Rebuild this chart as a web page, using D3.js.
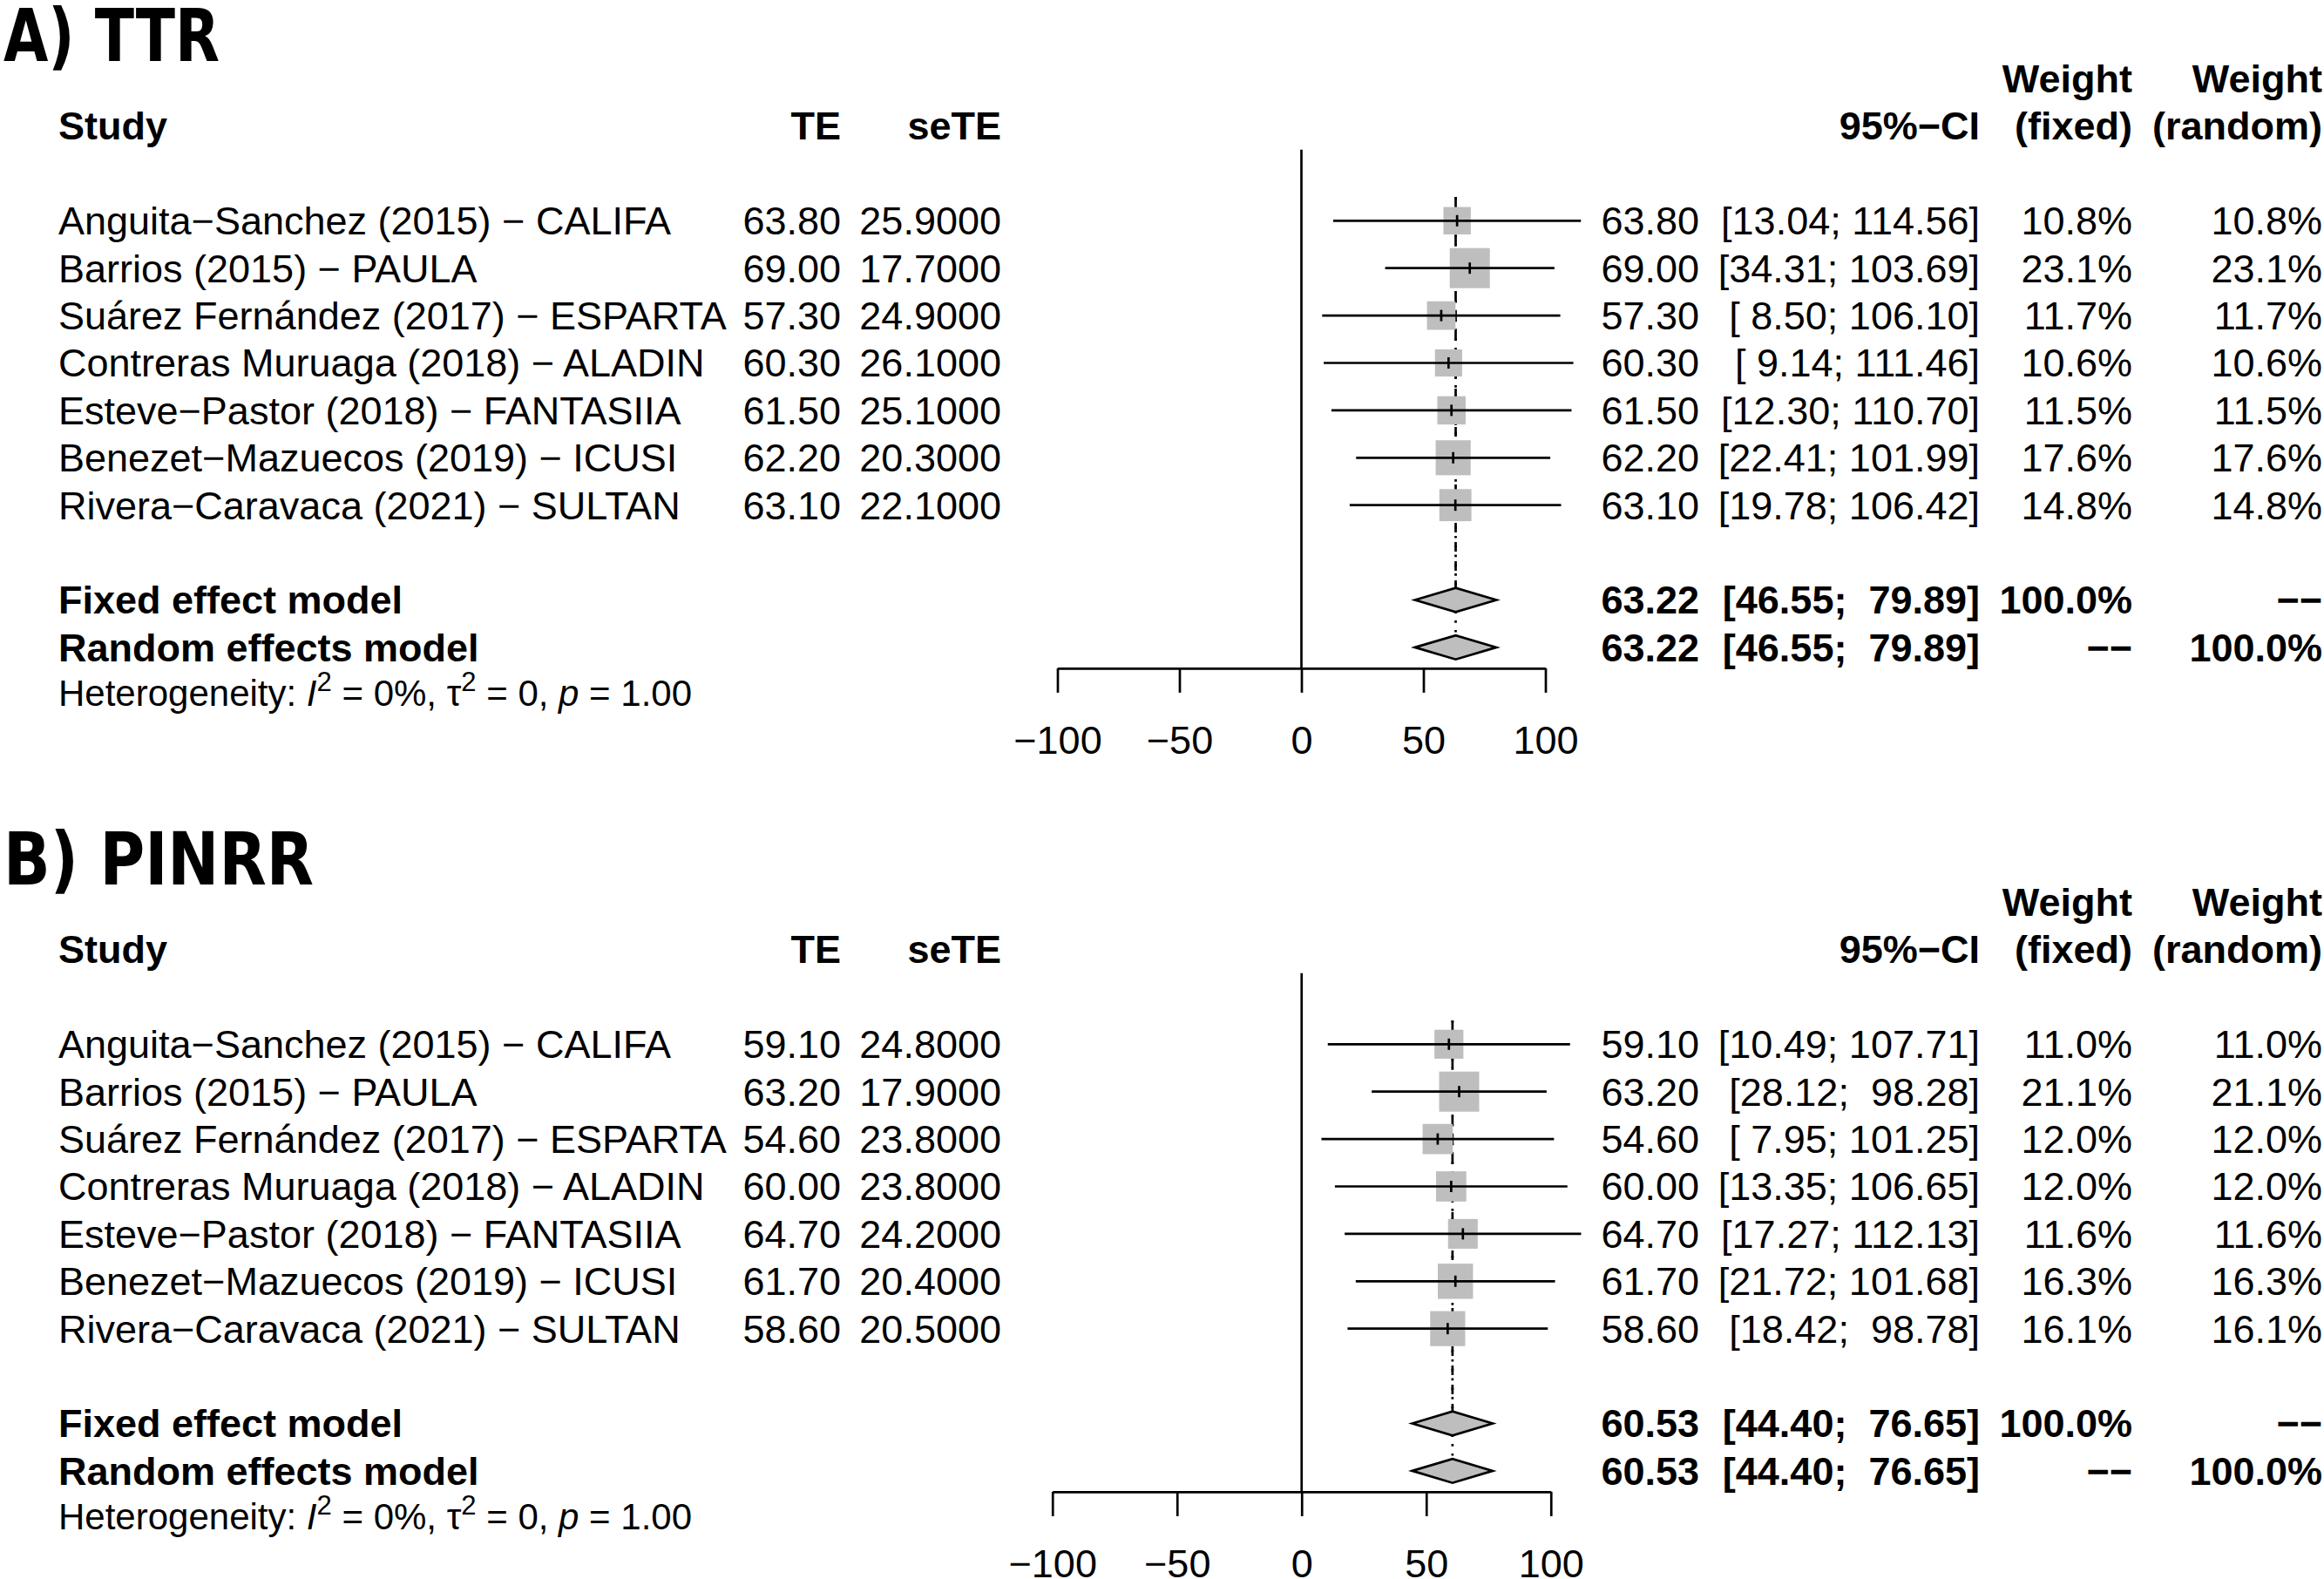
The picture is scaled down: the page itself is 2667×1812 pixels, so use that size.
<!DOCTYPE html>
<html>
<head>
<meta charset="utf-8">
<script src="https://cdn.jsdelivr.net/npm/d3@7"></script>
<style>
  body { margin: 0; background: #fff; }
  text { white-space: pre; }
</style>
</head>
<body>
<div id="chartArea"></div>
<script>
// study labels, shared by both panels
var studies = ['Anguita\u2212Sanchez (2015) \u2212 CALIFA', 'Barrios (2015) \u2212 PAULA',
               'Su\u00e1rez Fern\u00e1ndez (2017) \u2212 ESPARTA', 'Contreras Muruaga (2018) \u2212 ALADIN',
               'Esteve\u2212Pastor (2018) \u2212 FANTASIIA', 'Benezet\u2212Mazuecos (2019) \u2212 ICUSI',
               'Rivera\u2212Caravaca (2021) \u2212 SULTAN'];

// A) TTR
var ttrTE     = [63.80, 69.00, 57.30, 60.30, 61.50, 62.20, 63.10];
var ttrSE     = [25.9, 17.7, 24.9, 26.1, 25.1, 20.3, 22.1];
var ttrLower  = [13.04, 34.31, 8.50, 9.14, 12.30, 22.41, 19.78];
var ttrUpper  = [114.56, 103.69, 106.10, 111.46, 110.70, 101.99, 106.42];
var ttrWeight = [10.8, 23.1, 11.7, 10.6, 11.5, 17.6, 14.8];
var ttrPooled = [63.22, 46.55, 79.89];

// B) PINRR
var pinrrTE     = [59.10, 63.20, 54.60, 60.00, 64.70, 61.70, 58.60];
var pinrrSE     = [24.8, 17.9, 23.8, 23.8, 24.2, 20.4, 20.5];
var pinrrLower  = [10.49, 28.12, 7.95, 13.35, 17.27, 21.72, 18.42];
var pinrrUpper  = [107.71, 98.28, 101.25, 106.65, 112.13, 101.68, 98.78];
var pinrrWeight = [11.0, 21.1, 12.0, 12.0, 11.6, 16.3, 16.1];
var pinrrPooled = [60.53, 44.40, 76.65];

var tickValues = [-100, -50, 0, 50, 100];

var width = 2667, height = 1812;
var fs = 45;        // main font size
var lw = 2.7;       // line width
var step = 54.4;    // row height
var dash = '\u2212\u2212';

var svg = d3.select('#chartArea').append('svg')
    .attr('width', width)
    .attr('height', height)
    .style('font-family', '"Liberation Sans", Arial, sans-serif')
    .style('font-size', fs + 'px');

// column anchors
var col = {study: 67, te: 965, se: 1149, est: 1950, ci: 2272, wf: 2447, wr: 2665};

var f2 = d3.format('.2f'), f4 = d3.format('.4f'), f1 = d3.format('.1f');
function pad(s, n) { while (s.length < n) s = ' ' + s; return s; }
function ci(lo, hi) { return '[' + pad(f2(lo), 5) + '; ' + pad(f2(hi), 6) + ']'; }

function drawForest(top, title, titleLen, te, se, lo, hi, w, pooled, xrange) {
    var row = function(i) { return top + i * step; };
    var x = d3.scaleLinear().domain([-100, 100]).range(xrange);
    var sq = d3.scaleSqrt().domain([0, d3.max(w)]).range([0, 46]);
    var g = svg.append('g');
    var axisY = row(12) + 24;

    function txt(xp, i, s, anchor, bold) {
        return g.append('text')
            .attr('x', xp).attr('y', row(i) + 15.8)
            .attr('text-anchor', anchor || 'end')
            .attr('xml:space', 'preserve')
            .style('font-weight', bold ? 'bold' : 'normal')
            .text(s);
    }

    g.append('text')
        .attr('x', 4).attr('y', row(0) - 20.4)
        .attr('textLength', titleLen).attr('lengthAdjust', 'spacingAndGlyphs')
        .style('font-family', '"DejaVu Sans", sans-serif')
        .style('font-stretch', 'condensed')
        .style('font-weight', 'bold')
        .style('font-size', '84px')
        .text(title);

    // headers
    txt(col.wf, 0, 'Weight', 'end', true);
    txt(col.wr, 0, 'Weight', 'end', true);
    txt(col.study, 1, 'Study', 'start', true);
    txt(col.te, 1, 'TE', 'end', true);
    txt(col.se, 1, 'seTE', 'end', true);
    txt(col.ci, 1, '95%\u2212CI', 'end', true);
    txt(col.wf, 1, '(fixed)', 'end', true);
    txt(col.wr, 1, '(random)', 'end', true);

    // study rows
    studies.forEach(function(s, i) {
        var r = 3 + i;
        txt(col.study, r, s, 'start');
        txt(col.te, r, f2(te[i]));
        txt(col.se, r, f4(se[i]));
        txt(col.est, r, f2(te[i]));
        txt(col.ci, r, ci(lo[i], hi[i]));
        txt(col.wf, r, f1(w[i]) + '%');
        txt(col.wr, r, f1(w[i]) + '%');
    });

    // pooled rows
    txt(col.study, 11, 'Fixed effect model', 'start', true);
    txt(col.est, 11, f2(pooled[0]), 'end', true);
    txt(col.ci, 11, ci(pooled[1], pooled[2]), 'end', true);
    txt(col.wf, 11, '100.0%', 'end', true);
    txt(col.wr, 11, dash, 'end', true);
    txt(col.study, 12, 'Random effects model', 'start', true);
    txt(col.est, 12, f2(pooled[0]), 'end', true);
    txt(col.ci, 12, ci(pooled[1], pooled[2]), 'end', true);
    txt(col.wf, 12, dash, 'end', true);
    txt(col.wr, 12, '100.0%', 'end', true);

    // heterogeneity line
    var het = g.append('text')
        .attr('x', col.study).attr('y', row(13) + 13)
        .attr('xml:space', 'preserve')
        .style('font-size', '42px');
    het.append('tspan').text('Heterogeneity: ');
    het.append('tspan').style('font-style', 'italic').text('I');
    het.append('tspan').attr('dy', -17).style('font-size', '31px').text('2');
    het.append('tspan').attr('dy', 17).text(' = 0%, \u03c4');
    het.append('tspan').attr('dy', -17).style('font-size', '31px').text('2');
    het.append('tspan').attr('dy', 17).text(' = 0, ');
    het.append('tspan').style('font-style', 'italic').text('p');
    het.append('tspan').text(' = 1.00');

    // null effect line
    g.append('line')
        .attr('x1', x(0)).attr('x2', x(0))
        .attr('y1', row(1) + step / 2).attr('y2', axisY)
        .attr('stroke', '#000').attr('stroke-width', lw);

    // pooled estimate lines (fixed dashed, random dotted)
    g.append('line')
        .attr('x1', x(pooled[0])).attr('x2', x(pooled[0]))
        .attr('y1', row(3) - step / 2).attr('y2', row(11))
        .attr('stroke', '#000').attr('stroke-width', lw)
        .attr('stroke-dasharray', '11,11');
    g.append('line')
        .attr('x1', x(pooled[0])).attr('x2', x(pooled[0]))
        .attr('y1', row(3) - step / 2).attr('y2', row(12))
        .attr('stroke', '#000').attr('stroke-width', lw)
        .attr('stroke-dasharray', '2.7,8.1');

    // squares
    g.selectAll('rect.sq').data(te).enter().append('rect')
        .attr('class', 'sq')
        .attr('x', function(d, i) { return x(d) - sq(w[i]) / 2; })
        .attr('y', function(d, i) { return row(3 + i) - sq(w[i]) / 2; })
        .attr('width', function(d, i) { return sq(w[i]); })
        .attr('height', function(d, i) { return sq(w[i]); })
        .attr('fill', '#bebebe');

    // confidence intervals
    g.selectAll('line.ci').data(te).enter().append('line')
        .attr('class', 'ci')
        .attr('x1', function(d, i) { return x(lo[i]); })
        .attr('x2', function(d, i) { return x(hi[i]); })
        .attr('y1', function(d, i) { return row(3 + i); })
        .attr('y2', function(d, i) { return row(3 + i); })
        .attr('stroke', '#000').attr('stroke-width', lw);

    // estimate tick inside square
    g.selectAll('line.est').data(te).enter().append('line')
        .attr('class', 'est')
        .attr('x1', function(d) { return x(d); })
        .attr('x2', function(d) { return x(d); })
        .attr('y1', function(d, i) { return row(3 + i) - 6.5; })
        .attr('y2', function(d, i) { return row(3 + i) + 6.5; })
        .attr('stroke', '#000').attr('stroke-width', lw);

    // diamonds
    [11, 12].forEach(function(r) {
        var y = row(r);
        g.append('polygon')
            .attr('points', [[x(pooled[1]), y], [x(pooled[0]), y - 13.8],
                             [x(pooled[2]), y], [x(pooled[0]), y + 13.8]].join(' '))
            .attr('fill', '#bebebe').attr('stroke', '#000').attr('stroke-width', lw);
    });

    // x axis
    var ax = g.append('g')
        .attr('transform', 'translate(0,' + axisY + ')')
        .call(d3.axisBottom(x).tickValues(tickValues).tickFormat(d3.format('d'))
              .tickSize(28).tickSizeOuter(0).tickPadding(38));
    ax.attr('font-family', null).attr('font-size', null);
    ax.selectAll('path, line').attr('stroke-width', lw);
    ax.selectAll('text').style('font-size', fs + 'px');
}

drawForest(90.1, 'A) TTR', 248, ttrTE, ttrSE, ttrLower, ttrUpper, ttrWeight, ttrPooled, [1213.5, 1773.5]);
drawForest(1035.1, 'B) PINRR', 356, pinrrTE, pinrrSE, pinrrLower, pinrrUpper, pinrrWeight, pinrrPooled, [1207.75, 1779.75]);
</script>
</body>
</html>
